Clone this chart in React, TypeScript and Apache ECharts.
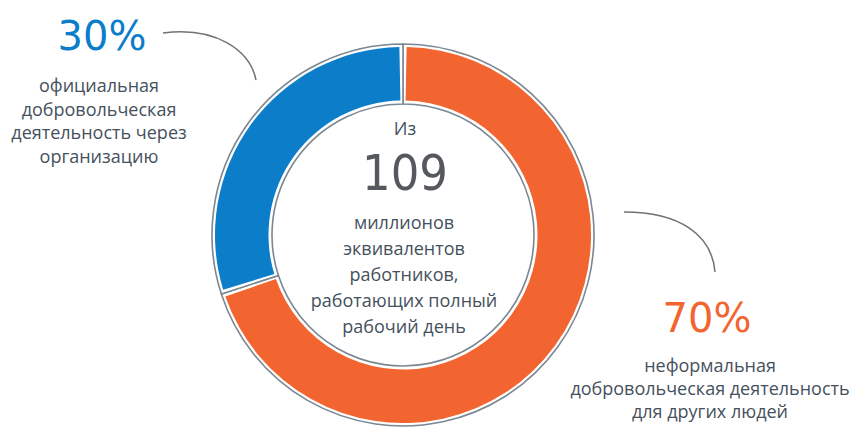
import React, { useEffect, useRef } from "react";
import * as echarts from "echarts";

const categories = [
  "неформальная добровольческая деятельность для других людей",
  "официальная добровольческая деятельность через организацию",
];
const shares = [70, 30];
const percentLabels = ["70%", "30%"];
const labelLinesRight = ["неформальная", "добровольческая деятельность", "для других людей"];
const labelLinesLeft = ["официальная", "добровольческая", "деятельность через", "организацию"];
const centerTop = "Из";
const centerNumber = "109";
const centerLines = ["миллионов", "эквивалентов", "работников,", "работающих полный", "рабочий день"];

const ORANGE = "#f26430";
const BLUE = "#0b7dc9";
const GRAY = "#7b8792";
const TEXT = "#45515c";
const HAND = "'DejaVu Sans', sans-serif";
const HAND_NARROW = "'DejaVu Sans Condensed', 'Liberation Sans Narrow', 'DejaVu Sans', sans-serif";
const BODY = "'Open Sans', 'Noto Sans', sans-serif";

export default function App() {
  const ref = useRef<HTMLDivElement>(null);
  useEffect(() => {
    document.body.style.margin = "0";
    const chart = echarts.init(ref.current!, null, { renderer: "svg" });
    const data = categories.map((name, i) => ({ name, value: shares[i] }));
    const textLines = (lines: string[], x: number, y0: number, dy: number, size: number) =>
      lines.map((t, i) => ({
        type: "text",
        x,
        y: y0 + i * dy,
        style: {
          text: t,
          fill: TEXT,
          font: `${size}px ${BODY}`,
          textAlign: "center",
          textVerticalAlign: "middle",
        },
      }));
    chart.setOption({
      animation: false,
      backgroundColor: "#ffffff",
      series: [
        {
          type: "pie",
          center: [403, 235],
          radius: [131, 191],
          startAngle: 90,
          label: { show: false },
          labelLine: { show: false },
          silent: true,
          itemStyle: { color: "#ffffff", borderColor: GRAY, borderWidth: 1.6 },
          data,
        },
        {
          type: "pie",
          center: [403, 235],
          radius: [134.5, 188],
          startAngle: 90,
          padAngle: 2.2,
          label: { show: false },
          labelLine: { show: false },
          itemStyle: { borderWidth: 0 },
          color: [ORANGE, BLUE],
          data,
        },
      ],
      graphic: [
        {
          type: "bezierCurve",
          shape: { x1: 163, y1: 33, cpx1: 215, cpy1: 26, cpx2: 250, cpy2: 50, x2: 256, y2: 80 },
          style: { stroke: "#6e7479", lineWidth: 1.5, fill: null },
        },
        {
          type: "bezierCurve",
          shape: { x1: 624, y1: 212, cpx1: 680, cpy1: 212, cpx2: 712, cpy2: 235, x2: 715, y2: 272 },
          style: { stroke: "#6e7479", lineWidth: 1.5, fill: null },
        },
        {
          type: "text",
          x: 102,
          y: 36,
          style: {
            text: percentLabels[1],
            fill: BLUE,
            font: `40px ${HAND}`,
            textAlign: "center",
            textVerticalAlign: "middle",
          },
        },
        {
          type: "text",
          x: 707,
          y: 318,
          style: {
            text: percentLabels[0],
            fill: ORANGE,
            font: `40px ${HAND}`,
            textAlign: "center",
            textVerticalAlign: "middle",
          },
        },
        ...textLines(labelLinesLeft, 99, 85, 23.5, 18),
        ...textLines(labelLinesRight, 710, 365, 23, 18),
        {
          type: "text",
          x: 405,
          y: 128,
          style: {
            text: centerTop,
            fill: TEXT,
            font: `18px ${BODY}`,
            textAlign: "center",
            textVerticalAlign: "middle",
          },
        },
        {
          type: "text",
          x: 405,
          y: 173,
          style: {
            text: centerNumber,
            fill: "#55595e",
            font: `300 50px ${HAND_NARROW}`,
            textAlign: "center",
            textVerticalAlign: "middle",
          },
        },
        ...textLines(centerLines, 404, 222, 26, 18),
      ],
    });
    return () => chart.dispose();
  }, []);
  return <div ref={ref} style={{ width: 856, height: 431 }} />;
}
